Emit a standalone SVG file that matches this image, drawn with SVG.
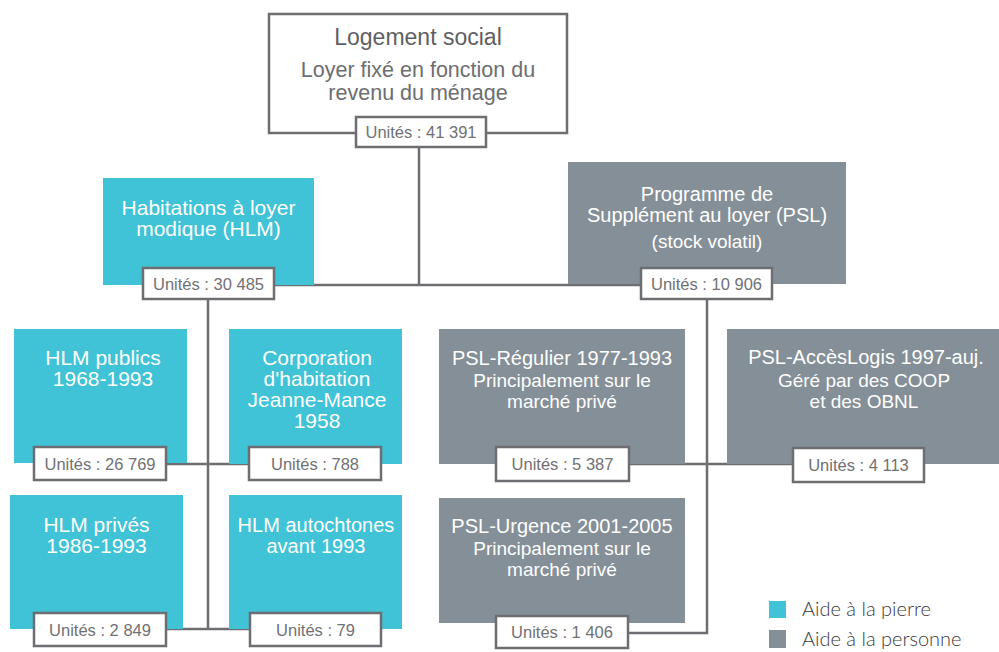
<svg xmlns="http://www.w3.org/2000/svg" width="999" height="652" viewBox="0 0 999 652">
  <style>
    text { font-family: "Liberation Sans", Arial, sans-serif; text-anchor: middle; }
    .pierre { fill: #40c3d6; }
    .personne { fill: #848f98; }
    .frame { fill: #ffffff; stroke: #6d6e71; stroke-width: 2.5; }
    .units { fill: #ffffff; stroke: #6d6e71; stroke-width: 2.5; }
    .units-t { font-size: 16.5px; fill: #707174; }
    .title { font-size: 20px; fill: #ffffff; }
    .sub { font-size: 19px; fill: #ffffff; }
    .link { fill: none; stroke: #6d6e71; stroke-width: 2.5; }
    .legend { font-family: Lato, "Liberation Sans", sans-serif; font-weight: 300; font-size: 20px; fill: #3a3a3a; text-anchor: start; }
  </style>

  <!-- connectors (drawn first so the unit tags sit on top) -->
  <g id="connectors">
    <path class="link" d="M419,147 V285"/>
    <path class="link" d="M274,285 H641"/>
    <path class="link" d="M208,299 V629"/>
    <path class="link" d="M166,464 H249"/>
    <path class="link" d="M166,629 H250"/>
    <path class="link" d="M707,299 V633 H628"/>
    <path class="link" d="M629,464 H793"/>
  </g>

  <!-- root -->
  <g id="logement-social">
    <rect class="frame" x="269" y="14" width="298" height="119"/>
    <text x="418" y="45" style="font-size:23px;fill:#5f6062">Logement social</text>
    <text x="418" y="77" style="font-size:21.5px;fill:#6d6e71">Loyer fixé en fonction du</text>
    <text x="418" y="100" style="font-size:21.5px;fill:#6d6e71">revenu du ménage</text>
    <rect class="units" x="356" y="117" width="130" height="30"/>
    <text class="units-t" x="421" y="138">Unités : 41 391</text>
  </g>

  <!-- second level -->
  <g id="hlm">
    <rect class="pierre" x="103" y="178" width="211" height="107"/>
    <text class="title" x="208.5" y="215" style="font-size:21px">Habitations à loyer</text>
    <text class="title" x="208.5" y="236" style="font-size:21px">modique (HLM)</text>
    <rect class="units" x="143" y="268" width="131" height="31"/>
    <text class="units-t" x="208.5" y="289.5">Unités : 30 485</text>
  </g>

  <g id="psl">
    <rect class="personne" x="568" y="162" width="278" height="122"/>
    <text class="title" x="707" y="201">Programme de</text>
    <text class="title" x="707" y="222">Supplément au loyer (PSL)</text>
    <text class="sub" x="707" y="248">(stock volatil)</text>
    <rect class="units" x="641" y="268" width="131" height="31"/>
    <text class="units-t" x="706.5" y="289.5">Unités : 10 906</text>
  </g>

  <!-- HLM branch -->
  <g id="hlm-publics">
    <rect class="pierre" x="14" y="329" width="173" height="134"/>
    <text class="title" x="103" y="365" style="font-size:21px">HLM publics</text>
    <text class="title" x="103" y="386" style="font-size:21px">1968-1993</text>
    <rect class="units" x="34" y="447" width="132" height="33"/>
    <text class="units-t" x="100" y="469.5">Unités : 26 769</text>
  </g>

  <g id="jeanne-mance">
    <rect class="pierre" x="229" y="329" width="173" height="135"/>
    <text class="title" x="317" y="365" style="font-size:21px">Corporation</text>
    <text class="title" x="317" y="386" style="font-size:21px">d'habitation</text>
    <text class="title" x="317" y="407" style="font-size:21px">Jeanne-Mance</text>
    <text class="title" x="317" y="428" style="font-size:21px">1958</text>
    <rect class="units" x="249" y="447" width="132" height="33"/>
    <text class="units-t" x="315" y="469.5">Unités : 788</text>
  </g>

  <g id="hlm-prives">
    <rect class="pierre" x="10" y="495" width="173" height="134"/>
    <text class="title" x="96.5" y="532" style="font-size:21px">HLM privés</text>
    <text class="title" x="96.5" y="553" style="font-size:21px">1986-1993</text>
    <rect class="units" x="34" y="613" width="132" height="33"/>
    <text class="units-t" x="100" y="635.5">Unités : 2 849</text>
  </g>

  <g id="hlm-autochtones">
    <rect class="pierre" x="229" y="495" width="173" height="134"/>
    <text class="title" x="316" y="532" style="font-size:20px">HLM autochtones</text>
    <text class="title" x="316" y="553" style="font-size:20px">avant 1993</text>
    <rect class="units" x="250" y="613" width="131" height="33"/>
    <text class="units-t" x="315.5" y="635.5">Unités : 79</text>
  </g>

  <!-- PSL branch -->
  <g id="psl-regulier">
    <rect class="personne" x="439" y="329" width="246" height="135"/>
    <text class="title" x="562" y="365">PSL-Régulier 1977-1993</text>
    <text class="sub" x="562" y="387">Principalement sur le</text>
    <text class="sub" x="562" y="408">marché privé</text>
    <rect class="units" x="496" y="447" width="133" height="34"/>
    <text class="units-t" x="562.5" y="470">Unités : 5 387</text>
  </g>

  <g id="psl-acceslogis">
    <rect class="personne" x="727" y="329" width="272" height="135"/>
    <text class="title" x="866" y="364">PSL-AccèsLogis 1997-auj.</text>
    <text class="sub" x="864" y="387">Géré par des COOP</text>
    <text class="sub" x="864" y="408">et des OBNL</text>
    <rect class="units" x="793" y="448" width="131" height="34"/>
    <text class="units-t" x="858.5" y="471">Unités : 4 113</text>
  </g>

  <g id="psl-urgence">
    <rect class="personne" x="439" y="498" width="246" height="125"/>
    <text class="title" x="562" y="533">PSL-Urgence 2001-2005</text>
    <text class="sub" x="562" y="555">Principalement sur le</text>
    <text class="sub" x="562" y="576">marché privé</text>
    <rect class="units" x="496" y="616" width="132" height="32"/>
    <text class="units-t" x="562" y="638">Unités : 1 406</text>
  </g>

  <!-- legend -->
  <g id="legend">
    <rect class="pierre" x="769" y="601" width="17" height="17"/>
    <text class="legend" x="802" y="616">Aide à la pierre</text>
    <rect class="personne" x="769" y="630" width="17" height="18"/>
    <text class="legend" x="802" y="646">Aide à la personne</text>
  </g>
</svg>
